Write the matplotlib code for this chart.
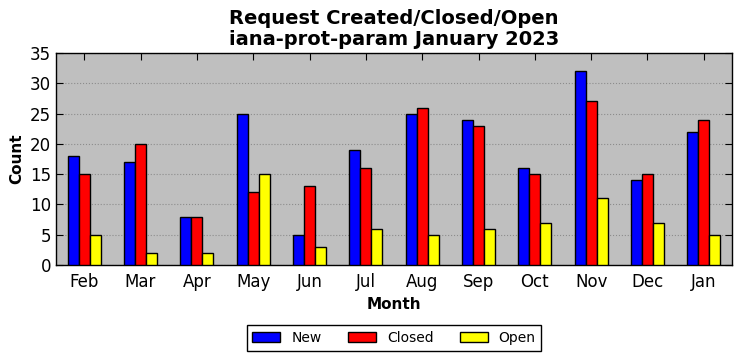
import matplotlib
matplotlib.use('Agg')
import matplotlib.pyplot as plt
import numpy as np

months = ['Feb', 'Mar', 'Apr', 'May', 'Jun', 'Jul', 'Aug', 'Sep', 'Oct', 'Nov', 'Dec', 'Jan']
new_counts = [18, 17, 8, 25, 5, 19, 25, 24, 16, 32, 14, 22]
closed_counts = [15, 20, 8, 12, 13, 16, 26, 23, 15, 27, 15, 24]
open_counts = [5, 2, 2, 15, 3, 6, 5, 6, 7, 11, 7, 5]

fig = plt.figure(figsize=(7.42, 3.61), dpi=100)
ax = fig.add_axes([56/742, 1 - 265/361, 676/742, 212/361])
ax.set_facecolor('#bfbfbf')

x = np.arange(len(months))
w = 0.195
ax.bar(x - w, new_counts, w, color='blue', edgecolor='black', linewidth=1, label='New', zorder=3)
ax.bar(x, closed_counts, w, color='red', edgecolor='black', linewidth=1, label='Closed', zorder=3)
ax.bar(x + w, open_counts, w, color='yellow', edgecolor='black', linewidth=1, label='Open', zorder=3)

ax.set_xlim(-0.5, len(months) - 0.5)
ax.set_ylim(0, 35)
ax.set_yticks(range(0, 36, 5))
ax.set_xticks(x)
ax.set_xticklabels(months)
ax.tick_params(direction='in', top=True, right=True, length=5, labelsize=12)
ax.tick_params(axis='x', pad=6)
ax.yaxis.grid(True, linestyle=':', color='#8c8c8c', linewidth=0.8, zorder=0)
ax.set_axisbelow(True)
for s in ax.spines.values():
    s.set_linewidth(1)

ax.set_xlabel('Month', fontsize=11, fontweight='bold')
ax.set_ylabel('Count', fontsize=11, fontweight='bold')
ax.set_title('Request Created/Closed/Open\niana-prot-param January 2023', fontsize=14, fontweight='bold', linespacing=1.1)

fig.legend(loc='center', bbox_to_anchor=(394/742, 1 - 338/361), ncol=3, fontsize=10,
           fancybox=False, edgecolor='black', framealpha=1, columnspacing=1.9, handlelength=2.0)

fig.savefig('out.png', dpi=100)
